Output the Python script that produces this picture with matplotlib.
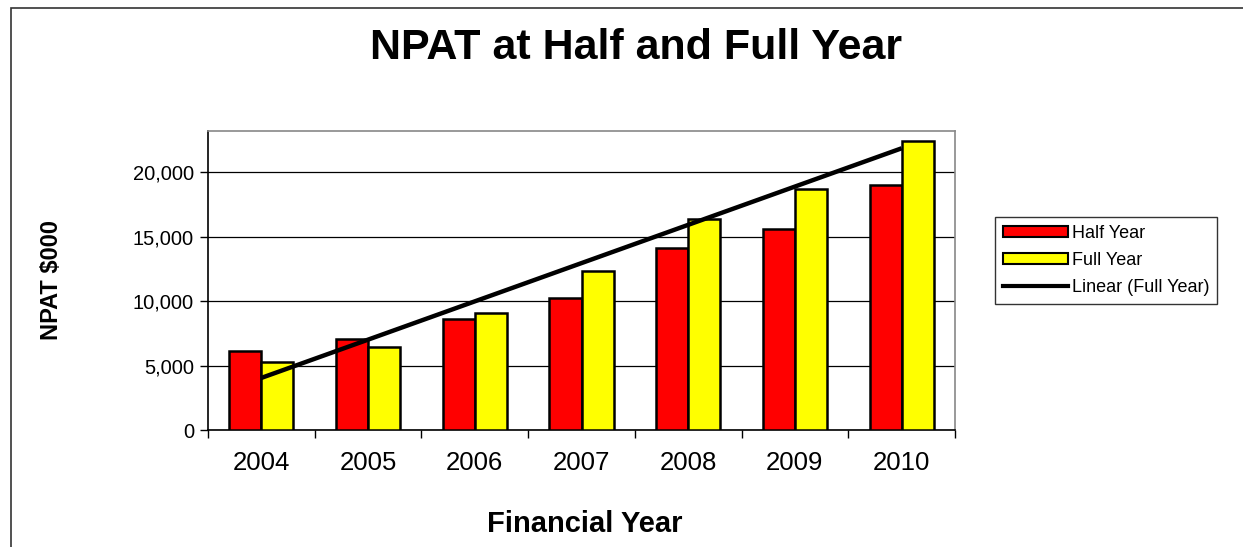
import numpy as np
import matplotlib
matplotlib.use("Agg")
import matplotlib.pyplot as plt
from matplotlib.patches import Patch, Rectangle
from matplotlib.lines import Line2D

plt.rcParams['font.family'] = ['Liberation Sans', 'DejaVu Sans']

years = ["2004", "2005", "2006", "2007", "2008", "2009", "2010"]
half_year = [6150, 7080, 8580, 10210, 14130, 15600, 18990]
full_year = [5300, 6460, 9070, 12330, 16380, 18680, 22430]
y_ticks = [0, 5000, 10000, 15000, 20000]

W, H = 1243, 547
fig = plt.figure(figsize=(W / 100, H / 100), dpi=100)
ax = fig.add_axes([208 / W, 1 - 430 / H, (955 - 208) / W, (430 - 131) / H])

x = np.arange(len(years))
bw = 0.3
ax.bar(x - bw / 2, half_year, bw, color="#ff0000", edgecolor="black", linewidth=1.8, zorder=3)
ax.bar(x + bw / 2, full_year, bw, color="#ffff00", edgecolor="black", linewidth=1.8, zorder=3)

coef = np.polyfit(x, full_year, 1)
ax.plot(x, np.polyval(coef, x), color="black", linewidth=3.2, zorder=4, solid_capstyle="butt")

ax.set_xlim(-0.5, len(years) - 0.5)
ax.set_ylim(0, 23200)
ax.set_yticks(y_ticks)
ax.set_yticklabels([f"{v:,}" for v in y_ticks], fontsize=14.5)
ax.yaxis.grid(True, color="black", linewidth=0.9, zorder=0)
ax.set_axisbelow(True)

ax.set_xticks(np.arange(-0.5, len(years), 1.0))
ax.set_xticklabels([])
ax.set_xticks(x, minor=True)
ax.set_xticklabels(years, minor=True, fontsize=18.5)
ax.tick_params(axis="x", which="major", direction="out", length=6, width=1, color="black")
ax.tick_params(axis="x", which="minor", length=0, pad=15)
ax.tick_params(axis="y", direction="out", length=6, width=1, pad=4)

for s in ["left", "bottom"]:
    ax.spines[s].set_color("black")
    ax.spines[s].set_linewidth(1.2)
for s in ["top", "right"]:
    ax.spines[s].set_color("#888888")
    ax.spines[s].set_linewidth(1.2)

fig.text(636 / W, 1 - 48 / H, "NPAT at Half and Full Year", ha="center", va="center",
         fontsize=31, fontweight="bold")
fig.text(585 / W, 1 - 524 / H, "Financial Year", ha="center", va="center",
         fontsize=21, fontweight="bold")
fig.text(52 / W, 1 - 280 / H, "NPAT $000", ha="center", va="center", rotation=90,
         fontsize=17, fontweight="bold")

handles = [
    Patch(facecolor="#ff0000", edgecolor="black", linewidth=1.5),
    Patch(facecolor="#ffff00", edgecolor="black", linewidth=1.5),
    Line2D([0], [0], color="black", linewidth=3),
]
leg = fig.legend(handles, ["Half Year", "Full Year", "Linear (Full Year)"],
                 loc="upper left", bbox_to_anchor=(995 / W, 1 - 217 / H),
                 fontsize=13, frameon=True, fancybox=False, edgecolor="black",
                 handlelength=3.6, handleheight=0.6, handletextpad=0.2,
                 labelspacing=0.55, borderpad=0.45, borderaxespad=0)
leg.get_frame().set_linewidth(1.0)

fig.add_artist(Rectangle((11 / W, -0.1), 2.0, 1 - 8 / H + 0.1, transform=fig.transFigure,
                         fill=False, edgecolor="#333333", linewidth=1.2))

fig.savefig("out.png", dpi=100)
